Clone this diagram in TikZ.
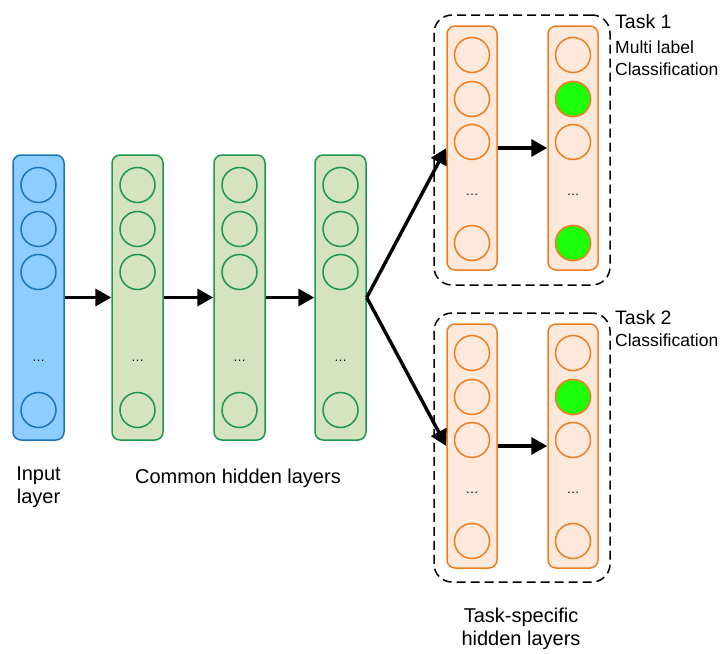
\documentclass[tikz,border=0pt]{standalone}
\usepackage{fontspec}
\setmainfont{Liberation Sans}
\usepackage{tikz}
\usetikzlibrary{positioning, arrows.meta}

\definecolor{infill}{HTML}{8ECDFF}
\definecolor{inline}{HTML}{1B75BC}
\definecolor{hidfill}{HTML}{D6E3BF}
\definecolor{hidline}{HTML}{1A9850}
\definecolor{taskfill}{HTML}{FDE9DC}
\definecolor{taskline}{HTML}{F07D1E}
\definecolor{active}{HTML}{1CFF0A}

\tikzset{
  layer/.style={draw, rounded corners=8pt, line width=1.5pt, minimum width=51pt},
  unit/.style={circle, draw, line width=1.5pt, minimum size=35pt, inner sep=0pt},
  dots/.style={font=\fontsize{13}{13}\selectfont, inner sep=0pt},
  conn/.style={line width=3.4pt, -{Triangle[length=16pt, width=17pt]}},
  taskbox/.style={draw, dashed, dash pattern=on 9pt off 5pt, line width=1.5pt,
    rounded corners=18pt, minimum width=176pt},
  caption/.style={font=\fontsize{20}{23}\selectfont, align=center, anchor=base},
  tasktag/.style={anchor=base west, inner sep=0pt}
}

\begin{document}
\begin{tikzpicture}[x=1pt, y=-1pt]
  \useasboundingbox (0,0) rectangle (725,653);

  % Dashed task boxes
  \node[taskbox, minimum height=270pt] (task1) at (522,150) {};
  \node[taskbox, minimum height=269pt] (task2) at (522,447.5) {};

  % Input layer
  \node[layer, draw=inline, fill=infill, minimum height=285pt] (in) at (38.5,297.5) {};
  \foreach \k/\y in {1/185, 2/229, 3/272, 4/410}
    \node[unit, draw=inline] (in-\k) at (38.5,\y) {};
  \node[dots] at (38.5,361) {\ldots};

  % Common hidden layers
  \foreach \n/\x in {h1/137.5, h2/239.5, h3/340.5} {
    \node[layer, draw=hidline, fill=hidfill, minimum height=285pt] (\n) at (\x,297.5) {};
    \foreach \k/\y in {1/185, 2/229, 3/272, 4/410}
      \node[unit, draw=hidline] (\n-\k) at (\x,\y) {};
    \node[dots] at (\x,361) {\ldots};
  }

  % Task-specific layers
  \foreach \n/\x/\t in {t1a/472/26, t1b/573/26, t2a/472/324, t2b/573/324} {
    \node[layer, draw=taskline, fill=taskfill, minimum height=244pt, minimum width=50pt]
      (\n) at (\x,\t+122) {};
    \foreach \k/\y in {1/29, 2/73, 3/116, 4/217}
      \node[unit, draw=taskline] (\n-\k) at (\x,\t+\y) {};
    \node[dots] at (\x,\t+169) {\ldots};
  }

  % Active outputs
  \node[unit, draw=taskline, fill=active] at (t1b-2) {};
  \node[unit, draw=taskline, fill=active] at (t1b-4) {};
  \node[unit, draw=taskline, fill=active] at (t2b-2) {};

  % Connections
  \draw[conn] (in) -- (h1);
  \draw[conn] (h1) -- (h2);
  \draw[conn] (h2) -- (h3);
  \draw[conn] (h3.east) -- (t1a.west);
  \draw[conn] (h3.east) -- (t2a.west);
  \draw[conn] (t1a) -- (t1b);
  \draw[conn] (t2a) -- (t2b);

  % Labels (base is the last line)
  \node[caption] (inlabel) at (38.5,503) {Input\\layer};
  \node[caption] (hidlabel) at (238,483) {Common hidden layers};
  \node[caption] (tasklabel) at (521,645) {Task-specific\\hidden layers};

  \node[tasktag, font=\fontsize{19.5}{22}\selectfont] (tag1) at (615,28) {Task 1};
  \node[tasktag, font=\fontsize{17.5}{21}\selectfont] (sub1a) at (615,53) {Multi label};
  \node[tasktag, font=\fontsize{17.5}{21}\selectfont] (sub1b) at (615,75) {Classification};
  \node[tasktag, font=\fontsize{19.5}{22}\selectfont] (tag2) at (615,324) {Task 2};
  \node[tasktag, font=\fontsize{17.5}{21}\selectfont] (sub2) at (615,346) {Classification};
\end{tikzpicture}
\end{document}
